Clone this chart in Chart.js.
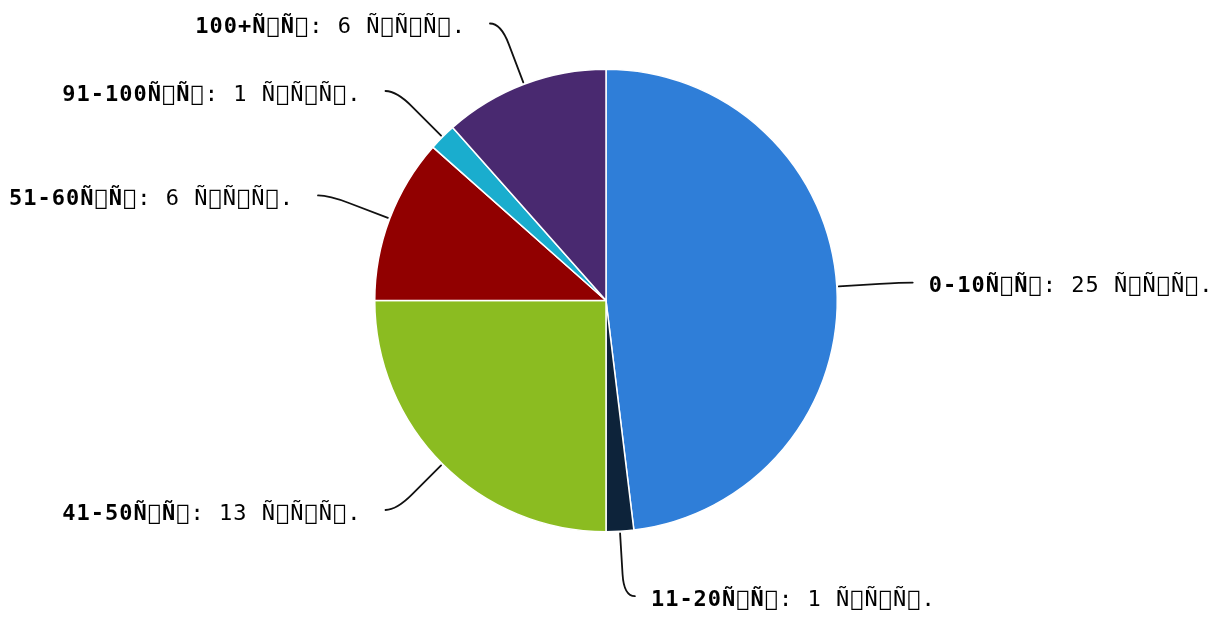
<!DOCTYPE html>
<html>
<head>
<meta charset="utf-8">
<script src="https://cdn.jsdelivr.net/npm/chart.js@4"></script>
<style>
html,body{margin:0;padding:0;background:#fff;}
#wrap{width:1222px;height:619px;}
</style>
</head>
<body>
<div id="wrap"><canvas id="c" width="1222" height="619"></canvas></div>
<script>
const categories = ["0-10Ñ\uE000Ñ\uE000", "11-20Ñ\uE000Ñ\uE000", "41-50Ñ\uE000Ñ\uE000", "51-60Ñ\uE000Ñ\uE000", "91-100Ñ\uE000Ñ\uE000", "100+Ñ\uE000Ñ\uE000"];
const values = [25, 1, 13, 6, 1, 6];
const unitLabel = "Ñ\uE000Ñ\uE000Ñ\uE000.";
const colors = ["#2f7ed8", "#0d233a", "#8bbc21", "#910000", "#1aadce", "#492970"];

const FONT = '"DejaVu Sans Mono"';
const FS = 22;

const labelPlugin = {
  id: 'pieLabels',
  afterDraw(chart) {
    const ctx = chart.ctx;
    const meta = chart.getDatasetMeta(0);
    ctx.save();
    meta.data.forEach((arc, i) => {
      const p = arc.getProps(['x', 'y', 'startAngle', 'endAngle', 'outerRadius'], true);
      const a = (p.startAngle + p.endAngle) / 2;
      const dx = Math.cos(a), dy = Math.sin(a);
      const r = p.outerRadius;
      const sign = dx >= 0 ? 1 : -1;
      const D = 65;
      const E = {x: p.x + (r + 2) * dx, y: p.y + (r + 2) * dy};
      const Q = {x: p.x + (r + D - 22) * dx, y: p.y + (r + D - 22) * dy};
      const P = {x: p.x + (r + D) * dx, y: p.y + (r + D) * dy};
      const End = {x: P.x + sign * 11, y: P.y};
      ctx.beginPath();
      ctx.moveTo(E.x, E.y);
      ctx.lineTo(Q.x, Q.y);
      ctx.quadraticCurveTo(P.x, P.y, End.x, End.y);
      ctx.strokeStyle = '#111';
      ctx.lineWidth = 1.8;
      ctx.lineCap = 'round';
      ctx.stroke();

      const bold = categories[i];
      const rest = ': ' + values[i] + ' ' + unitLabel;
      ctx.textBaseline = 'middle';
      ctx.fillStyle = '#000';
      if ('letterSpacing' in ctx) ctx.letterSpacing = '1px';
      ctx.font = 'bold ' + FS + 'px ' + FONT;
      const wb = ctx.measureText(bold).width;
      ctx.font = FS + 'px ' + FONT;
      const wr = ctx.measureText(rest).width;
      const x0 = sign > 0 ? End.x + 16 : End.x - 24 - wb - wr;
      const ty = End.y + 4;
      ctx.textAlign = 'left';
      ctx.font = 'bold ' + FS + 'px ' + FONT;
      ctx.fillText(bold, x0, ty);
      ctx.font = FS + 'px ' + FONT;
      ctx.fillText(rest, x0 + wb, ty);
    });
    ctx.restore();
  }
};

new Chart(document.getElementById('c'), {
  type: 'pie',
  data: {
    labels: categories,
    datasets: [{
      data: values,
      backgroundColor: colors,
      borderColor: '#ffffff',
      borderWidth: 1.5,
      hoverOffset: 0
    }]
  },
  options: {
    responsive: false,
    animation: false,
    layout: {padding: {left: 374, right: 384, top: 68, bottom: 86}},
    plugins: {legend: {display: false}, tooltip: {enabled: false}}
  },
  plugins: [labelPlugin]
});
</script>
</body>
</html>
